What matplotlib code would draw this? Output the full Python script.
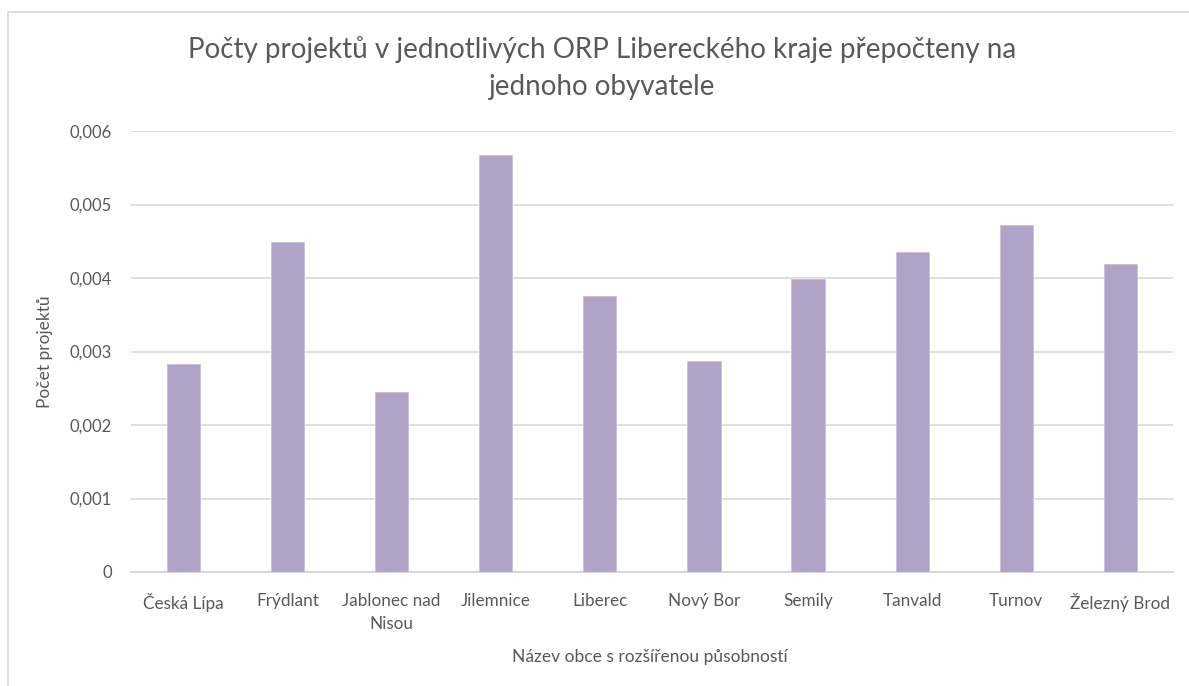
import matplotlib
matplotlib.use("Agg")
import matplotlib.pyplot as plt
from matplotlib.ticker import FuncFormatter
from matplotlib.patches import Rectangle

categories = ["Česká Lípa", "Frýdlant", "Jablonec nad\nNisou", "Jilemnice", "Liberec",
              "Nový Bor", "Semily", "Tanvald", "Turnov", "Železný Brod"]
values = [0.00283, 0.00449, 0.00245, 0.00568, 0.00376,
          0.00287, 0.00399, 0.00436, 0.00472, 0.00419]
yticks = [0, 0.001, 0.002, 0.003, 0.004, 0.005, 0.006]

title = "Počty projektů v jednotlivých ORP Libereckého kraje přepočteny na\njednoho obyvatele"
xlabel = "Název obce s rozšířenou působností"
ylabel = "Počet projektů"

txt = "#595959"
plt.rcParams['font.family'] = ['Lato', 'DejaVu Sans']

fig = plt.figure(figsize=(11.89, 6.86), dpi=100)
fig.patch.set_facecolor("white")
fig.add_artist(Rectangle((8/1189, -0.1), 1.2, 1 - 12/686 + 0.1, transform=fig.transFigure,
                         fill=False, edgecolor="#D9D9D9", linewidth=1.2))

ax = fig.add_axes([131.3/1189, 1 - 572/686, (1172.5 - 131.3)/1189, (572 - 131)/686])
x = range(len(categories))
ax.bar(x, values, width=0.32, color="#B1A2C7", edgecolor="#C9BEDA", linewidth=0.6, zorder=3)
ax.set_xlim(-0.5, len(categories) - 0.5)
ax.set_ylim(0, 0.006)
ax.set_yticks(yticks)
ax.yaxis.set_major_formatter(FuncFormatter(lambda v, p: "0" if v == 0 else f"{v:.3f}".replace(".", ",")))
ax.set_xticks(list(x))
ax.set_xticklabels(categories, fontsize=12.3, color=txt, linespacing=1.55)
ax.tick_params(axis="y", labelsize=12, labelcolor=txt, length=0, pad=14)
ax.tick_params(axis="x", length=0, pad=15)
ax.grid(axis="y", color="#D9D9D9", linewidth=1.2, zorder=0)
for s in ["top", "right", "left"]:
    ax.spines[s].set_visible(False)
ax.spines["bottom"].set_color("#D9D9D9")
ax.spines["bottom"].set_linewidth(1.5)

ax.set_ylabel(ylabel, fontsize=12.5, color=txt, labelpad=12)
fig.text(650/1189, 1 - 657/686, xlabel, ha="center", va="center", fontsize=12.5, color=txt)
fig.text(602/1189, 1 - 68/686, title, ha="center", va="center", fontsize=20, color=txt,
         linespacing=1.5)

fig.savefig("out.png", dpi=100, facecolor="white")
